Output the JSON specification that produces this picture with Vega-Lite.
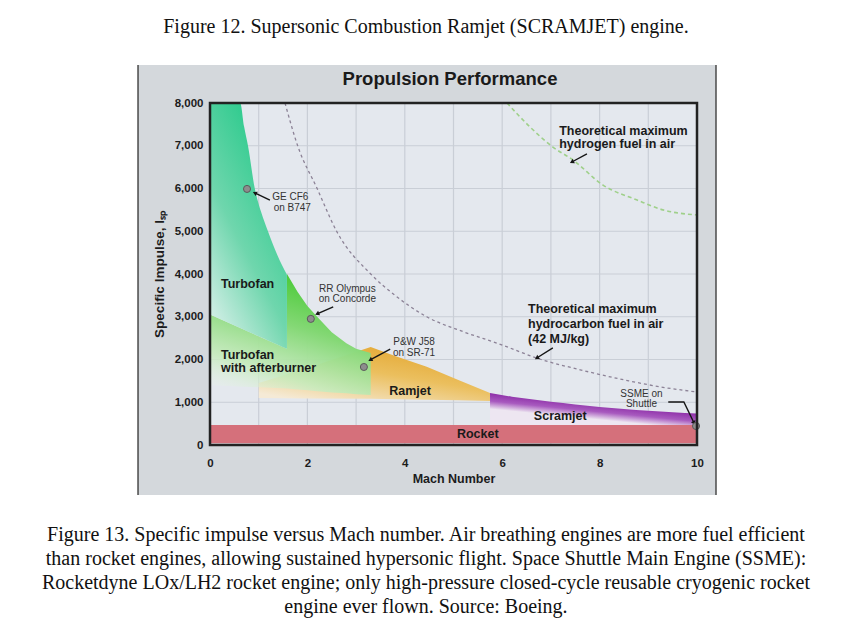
{
  "$schema": "https://vega.github.io/schema/vega-lite/v6.json",
  "width": 487,
  "height": 342,
  "autosize": {"type": "none"},
  "padding": {"left": 210, "top": 103, "right": 153, "bottom": 194},
  "background": "white",
  "config": {"view": {"stroke": null}, "font": "Liberation Sans"},
  "datasets": {
    "panel": [{"x": -1.478, "x2": 10.39, "y": -1170, "y2": 8889}],
    "borders": [{"x": -1.478, "y": -1170, "y2": 8889}, {"x": 10.39, "y": -1170, "y2": 8889}],
    "plotbg": [{"x": 0, "x2": 10, "y": 0, "y2": 8000}],
    "vgrid": [
      {"x": 1, "y": 0, "y2": 8000}, {"x": 2, "y": 0, "y2": 8000}, {"x": 3, "y": 0, "y2": 8000},
      {"x": 4, "y": 0, "y2": 8000}, {"x": 5, "y": 0, "y2": 8000}, {"x": 6, "y": 0, "y2": 8000},
      {"x": 7, "y": 0, "y2": 8000}, {"x": 8, "y": 0, "y2": 8000}, {"x": 9, "y": 0, "y2": 8000}
    ],
    "hgrid": [
      {"x": 0, "x2": 10, "y": 1000}, {"x": 0, "x2": 10, "y": 2000}, {"x": 0, "x2": 10, "y": 3000},
      {"x": 0, "x2": 10, "y": 4000}, {"x": 0, "x2": 10, "y": 5000}, {"x": 0, "x2": 10, "y": 6000},
      {"x": 0, "x2": 10, "y": 7000}
    ],
    "orange": [
      {"x": 1.0, "y": 1450, "y2": 1100},
      {"x": 2.0, "y": 1800, "y2": 1090},
      {"x": 3.3, "y": 2290, "y2": 1080},
      {"x": 3.8, "y": 2080, "y2": 1070},
      {"x": 4.45, "y": 1830, "y2": 1060},
      {"x": 5.1, "y": 1520, "y2": 1045},
      {"x": 5.75, "y": 1215, "y2": 1030}
    ],
    "green": [
      {"x": 0, "y": 3050, "y2": 1400},
      {"x": 1.58, "y": 2250, "y2": 1320},
      {"x": 1.581, "y": 4000, "y2": 1320},
      {"x": 1.8, "y": 3580, "y2": 1300},
      {"x": 2.0, "y": 3250, "y2": 1280},
      {"x": 2.2, "y": 3000, "y2": 1260},
      {"x": 2.5, "y": 2640, "y2": 1230},
      {"x": 2.8, "y": 2380, "y2": 1210},
      {"x": 3.0, "y": 2250, "y2": 1190},
      {"x": 3.3, "y": 2150, "y2": 1170}
    ],
    "teal": [
      {"x": 0, "y": 8000, "y2": 3050},
      {"x": 0.62, "y": 8000, "y2": 2736},
      {"x": 0.7, "y": 7450, "y2": 2696},
      {"x": 0.78, "y": 7000, "y2": 2655},
      {"x": 0.92, "y": 6000, "y2": 2584},
      {"x": 1.05, "y": 5450, "y2": 2518},
      {"x": 1.19, "y": 5000, "y2": 2447},
      {"x": 1.38, "y": 4450, "y2": 2351},
      {"x": 1.58, "y": 3980, "y2": 2250}
    ],
    "purple": [
      {"x": 5.75, "y": 1215, "y2": 470},
      {"x": 6.2, "y": 1130, "y2": 470},
      {"x": 6.6, "y": 1070, "y2": 470},
      {"x": 7.0, "y": 1010, "y2": 470},
      {"x": 7.5, "y": 950, "y2": 470},
      {"x": 8.0, "y": 890, "y2": 470},
      {"x": 8.5, "y": 840, "y2": 470},
      {"x": 9.0, "y": 800, "y2": 470},
      {"x": 9.5, "y": 765, "y2": 470},
      {"x": 10.0, "y": 735, "y2": 470}
    ],
    "rocket": [{"x": 0, "x2": 10, "y": 40, "y2": 465}],
    "hc": [
      {"x": 1.54, "y": 8000}, {"x": 1.8, "y": 7000}, {"x": 2.2, "y": 6000}, {"x": 2.6, "y": 5000},
      {"x": 3.3, "y": 4000}, {"x": 3.8, "y": 3500}, {"x": 4.45, "y": 3000}, {"x": 5.2, "y": 2650},
      {"x": 5.9, "y": 2380}, {"x": 6.8, "y": 2000}, {"x": 7.6, "y": 1760}, {"x": 8.6, "y": 1500},
      {"x": 9.3, "y": 1350}, {"x": 10, "y": 1240}
    ],
    "h2": [
      {"x": 6.1, "y": 8000}, {"x": 6.57, "y": 7440}, {"x": 7.04, "y": 6970}, {"x": 7.45, "y": 6670},
      {"x": 8.07, "y": 6080}, {"x": 8.77, "y": 5730}, {"x": 9.3, "y": 5500}, {"x": 10, "y": 5380}
    ],
    "arrows": [
      {"id": "ge", "i": 0, "x": 1.23, "y": 5730}, {"id": "ge", "i": 1, "x": 0.92, "y": 5895},
      {"id": "rr", "i": 0, "x": 2.53, "y": 3230}, {"id": "rr", "i": 1, "x": 2.2, "y": 3065},
      {"id": "pw", "i": 0, "x": 3.7, "y": 2245}, {"id": "pw", "i": 1, "x": 3.29, "y": 1990},
      {"id": "h2", "i": 0, "x": 7.74, "y": 6810}, {"id": "h2", "i": 1, "x": 7.43, "y": 6620},
      {"id": "hc", "i": 0, "x": 7.04, "y": 2270}, {"id": "hc", "i": 1, "x": 6.71, "y": 2035},
      {"id": "ss", "i": 0, "x": 9.41, "y": 1005}, {"id": "ss", "i": 1, "x": 9.73, "y": 1005}, {"id": "ss", "i": 2, "x": 9.94, "y": 515}
    ],
    "heads": [
      {"x": 0.92, "y": 5895, "a": 295},
      {"x": 2.2, "y": 3065, "a": 246},
      {"x": 3.29, "y": 1990, "a": 241},
      {"x": 7.43, "y": 6620, "a": 242},
      {"x": 6.71, "y": 2035, "a": 238},
      {"x": 9.94, "y": 515, "a": 154}
    ],
    "pts": [
      {"x": 0.76, "y": 5990}, {"x": 2.07, "y": 2950}, {"x": 3.16, "y": 1825}, {"x": 9.98, "y": 444}
    ],
    "frame": [{"x": 0, "x2": 10, "y": 0, "y2": 8000}],
    "bold": [
      {"t": "Turbofan", "x": 0.226, "y": 3766},
      {"t": "Turbofan", "x": 0.226, "y": 2105},
      {"t": "with afterburner", "x": 0.226, "y": 1801},
      {"t": "Ramjet", "x": 3.68, "y": 1270},
      {"t": "Scramjet", "x": 6.65, "y": 686},
      {"t": "Rocket", "x": 5.07, "y": 257},
      {"t": "Theoretical maximum", "x": 7.17, "y": 7340},
      {"t": "hydrogen fuel in air", "x": 7.17, "y": 7030},
      {"t": "Theoretical maximum", "x": 6.53, "y": 3185},
      {"t": "hydrocarbon fuel in air", "x": 6.53, "y": 2830},
      {"t": "(42 MJ/kg)", "x": 6.53, "y": 2473}
    ],
    "small": [
      {"t": "GE CF6", "x": 1.65, "y": 5808},
      {"t": "on B747", "x": 1.69, "y": 5536},
      {"t": "RR Olympus", "x": 2.82, "y": 3649},
      {"t": "on Concorde", "x": 2.82, "y": 3415},
      {"t": "P&W J58", "x": 4.19, "y": 2409},
      {"t": "on SR-71", "x": 4.19, "y": 2152},
      {"t": "SSME on", "x": 8.86, "y": 1193},
      {"t": "Shuttle", "x": 8.86, "y": 952}
    ],
    "ptitle": [{"t": "Propulsion Performance", "x": 4.928, "y": 8561}],
    "captions": [
      {"t": "Figure 12. Supersonic Combustion Ramjet (SCRAMJET) engine.", "x": 4.435, "y": 9778},
      {"t": "Figure 13. Specific impulse versus Mach number. Air breathing engines are more fuel efficient", "x": 4.435, "y": -2105},
      {"t": "than rocket engines, allowing sustained hypersonic flight. Space Shuttle Main Engine (SSME):", "x": 4.435, "y": -2667},
      {"t": "Rocketdyne LOx/LH2 rocket engine; only high-pressure closed-cycle reusable cryogenic rocket", "x": 4.435, "y": -3228},
      {"t": "engine ever flown. Source: Boeing.", "x": 4.435, "y": -3789}
    ]
  },
  "encoding": {
    "x": {
      "field": "x", "type": "quantitative",
      "scale": {"domain": [0, 10], "nice": false, "zero": false},
      "axis": {
        "values": [0, 2, 4, 6, 8, 10], "grid": false, "domain": false, "ticks": false,
        "labelFlush": false, "labelFont": "Liberation Sans", "labelFontSize": 11.5,
        "labelFontWeight": "bold", "labelColor": "#1c1c1c", "labelPadding": 12,
        "title": "Mach Number", "titleFont": "Liberation Sans", "titleFontSize": 12.5,
        "titleFontWeight": "bold", "titleColor": "#1c1c1c", "titlePadding": 4, "zindex": 1
      }
    },
    "y": {
      "field": "y", "type": "quantitative",
      "scale": {"domain": [0, 8000], "nice": false, "zero": false},
      "axis": {
        "values": [0, 1000, 2000, 3000, 4000, 5000, 6000, 7000, 8000], "format": ",.0f",
        "grid": false, "domain": false, "ticks": false,
        "labelFont": "Liberation Sans", "labelFontSize": 11.5, "labelFontWeight": "bold",
        "labelColor": "#1c1c1c", "labelPadding": 7,
        "title": "Specific Impulse, Iₛₚ", "titleFont": "Liberation Sans", "titleFontSize": 13.5,
        "titleFontWeight": "bold", "titleColor": "#1c1c1c", "titlePadding": 8, "zindex": 1
      }
    }
  },
  "layer": [
    {"data": {"name": "panel"}, "mark": {"type": "rect", "color": "#d4d8dc"},
     "encoding": {"x2": {"field": "x2"}, "y2": {"field": "y2"}}},
    {"data": {"name": "borders"}, "mark": {"type": "rule", "color": "#4a4a4a", "strokeWidth": 1.5},
     "encoding": {"y2": {"field": "y2"}}},
    {"data": {"name": "plotbg"}, "mark": {"type": "rect", "color": "#e4e8ee"},
     "encoding": {"x2": {"field": "x2"}, "y2": {"field": "y2"}}},
    {"data": {"name": "vgrid"}, "mark": {"type": "rule", "color": "#c9ced6", "strokeWidth": 1.2},
     "encoding": {"y2": {"field": "y2"}}},
    {"data": {"name": "hgrid"}, "mark": {"type": "rule", "color": "#c9ced6", "strokeWidth": 1.2},
     "encoding": {"x2": {"field": "x2"}}},
    {"data": {"name": "orange"},
     "mark": {"type": "area", "interpolate": "linear",
       "color": {"gradient": "linear", "x1": 0.85, "y1": 0.1, "x2": 0.2, "y2": 1,
         "stops": [{"offset": 0, "color": "#e3a630"}, {"offset": 0.45, "color": "#ebbf5e"}, {"offset": 1, "color": "#f5ead6"}]}},
     "encoding": {"y2": {"field": "y2"}}},
    {"data": {"name": "green"},
     "mark": {"type": "area", "interpolate": "linear",
       "color": {"gradient": "linear", "x1": 0.55, "y1": 0.05, "x2": 0.15, "y2": 1,
         "stops": [{"offset": 0, "color": "#4ecb3c"}, {"offset": 0.35, "color": "#84d875"}, {"offset": 0.75, "color": "rgba(198,235,189,0.9)"}, {"offset": 1, "color": "rgba(234,243,234,0.2)"}]}},
     "encoding": {"y2": {"field": "y2"}}},
    {"data": {"name": "teal"},
     "mark": {"type": "area", "interpolate": "monotone",
       "color": {"gradient": "linear", "x1": 0.7, "y1": 0, "x2": 0.1, "y2": 1,
         "stops": [{"offset": 0, "color": "#1ec886"}, {"offset": 0.55, "color": "#6fd6ad"}, {"offset": 1, "color": "#e0f2ee"}]}},
     "encoding": {"y2": {"field": "y2"}}},
    {"data": {"name": "purple"},
     "mark": {"type": "area", "interpolate": "monotone",
       "color": {"gradient": "linear", "x1": 0, "y1": 0, "x2": -0.227, "y2": 0.353,
         "stops": [{"offset": 0, "color": "#8e2fa8"}, {"offset": 0.5, "color": "#a85abf"}, {"offset": 1, "color": "#ede6f1"}]}},
     "encoding": {"y2": {"field": "y2"}}},
    {"data": {"name": "rocket"}, "mark": {"type": "rect", "color": "#d5707b"},
     "encoding": {"x2": {"field": "x2"}, "y2": {"field": "y2"}}},
    {"data": {"name": "hc"},
     "mark": {"type": "line", "interpolate": "monotone", "color": "#8c8296", "strokeWidth": 1.3, "strokeDash": [3, 3]}},
    {"data": {"name": "h2"},
     "mark": {"type": "line", "interpolate": "monotone", "color": "#9fd08a", "strokeWidth": 1.6, "strokeDash": [4, 3]}},
    {"data": {"name": "arrows"},
     "mark": {"type": "line", "color": "#151515", "strokeWidth": 1.4},
     "encoding": {"detail": {"field": "id"}, "order": {"field": "i"}}},
    {"data": {"name": "heads"},
     "mark": {"type": "point", "shape": "triangle-up", "filled": true, "color": "#151515", "size": 24, "opacity": 1},
     "encoding": {"angle": {"field": "a", "type": "quantitative", "scale": null}}},
    {"data": {"name": "pts"},
     "mark": {"type": "circle", "size": 50, "fill": "#8d8d8d", "stroke": "#5a5a5a", "strokeWidth": 1, "opacity": 1}},
    {"data": {"name": "frame"},
     "mark": {"type": "rect", "filled": false, "stroke": "#222222", "strokeWidth": 2.5},
     "encoding": {"x2": {"field": "x2"}, "y2": {"field": "y2"}}},
    {"data": {"name": "bold"},
     "mark": {"type": "text", "align": "left", "baseline": "middle", "font": "Liberation Sans", "fontSize": 12.5, "fontWeight": "bold", "color": "#1a1a1a"},
     "encoding": {"text": {"field": "t"}}},
    {"data": {"name": "small"},
     "mark": {"type": "text", "align": "center", "baseline": "middle", "font": "Liberation Sans", "fontSize": 10, "color": "#333333"},
     "encoding": {"text": {"field": "t"}}},
    {"data": {"name": "ptitle"},
     "mark": {"type": "text", "align": "center", "baseline": "middle", "font": "Liberation Sans", "fontSize": 18.5, "fontWeight": "bold", "color": "#1a1a1a"},
     "encoding": {"text": {"field": "t"}}},
    {"data": {"name": "captions"},
     "mark": {"type": "text", "align": "center", "baseline": "middle", "font": "Liberation Serif", "fontSize": 20, "color": "#111111"},
     "encoding": {"text": {"field": "t"}}}
  ]
}
